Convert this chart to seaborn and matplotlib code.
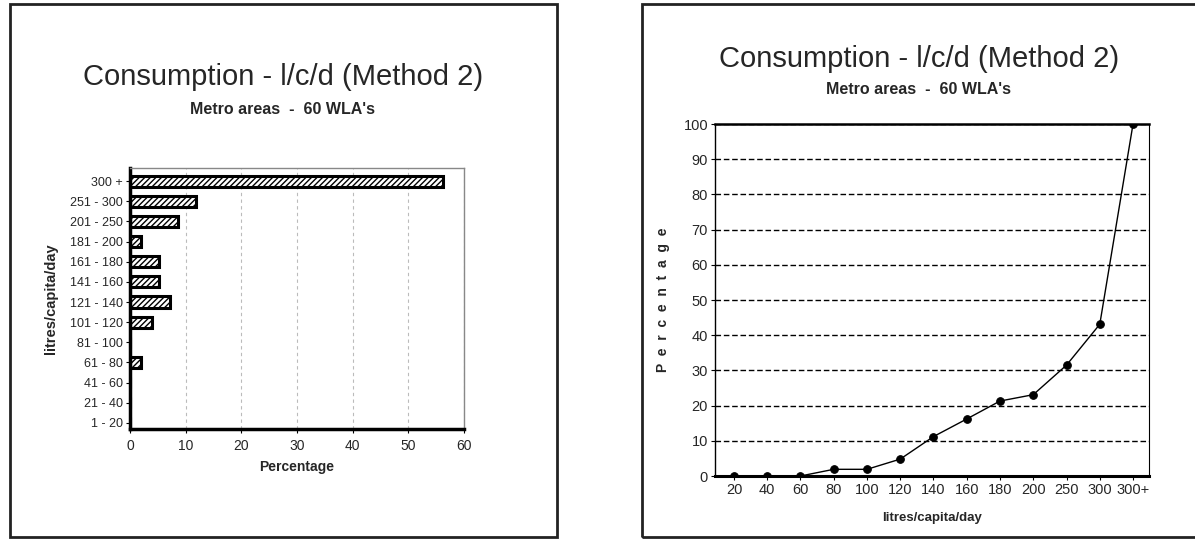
import matplotlib
matplotlib.use('Agg')
import matplotlib.pyplot as plt
import seaborn as sns
from matplotlib.patches import Rectangle

# data
bands = ['300 +', '251 - 300', '201 - 250', '181 - 200', '161 - 180', '141 - 160',
         '121 - 140', '101 - 120', '81 - 100', '61 - 80', '41 - 60', '21 - 40', '1 - 20']
band_pct = [56.3, 11.9, 8.6, 1.9, 5.2, 5.2, 7.2, 3.9, 0, 1.9, 0, 0, 0]

cum_labels = ['20', '40', '60', '80', '100', '120', '140', '160', '180', '200', '250', '300', '300+']
cum_pct = [0, 0, 0, 1.9, 1.9, 4.8, 11.2, 16.2, 21.3, 23.1, 31.5, 43.1, 100]

title = 'Consumption - l/c/d (Method 2)'
subtitle = "Metro areas  -  60 WLA's"

sns.set_theme(style='white')
plt.rcParams['font.family'] = ['Liberation Sans', 'DejaVu Sans']

W, H = 1195, 542
fig = plt.figure(figsize=(W / 100, H / 100), dpi=100)

def px(x0, y0, x1, y1):
    return [x0 / W, 1 - y1 / H, (x1 - x0) / W, (y1 - y0) / H]

# panel frames
for x0, x1 in [(10, 557), (642, 1200)]:
    fig.patches.append(Rectangle((x0 / W, 5 / H), (x1 - x0) / W, 533 / H,
                                 transform=fig.transFigure, fill=False,
                                 edgecolor='#222222', linewidth=2))

# ---- left: horizontal bars
ax1 = fig.add_axes(px(130, 168, 464, 429))
sns.barplot(x=band_pct, y=bands, orient='h', ax=ax1, color='white',
            edgecolor='black', linewidth=2.2, width=0.55, hatch='//////')
ax1.set_xlim(0, 60)
ax1.set_ylim(12.3, -0.65)
ax1.set_xticks(range(0, 61, 10))
ax1.xaxis.grid(True, color='#bbbbbb', linestyle=(0, (3, 3)), linewidth=0.8)
ax1.set_axisbelow(True)
for s in ['left', 'bottom']:
    ax1.spines[s].set_linewidth(2.5)
    ax1.spines[s].set_color('black')
for s in ['top', 'right']:
    ax1.spines[s].set_linewidth(1)
    ax1.spines[s].set_color('#888888')
ax1.tick_params(axis='y', labelsize=9, length=3, width=0.8, pad=2,
                left=True, color='black')
ax1.tick_params(axis='x', labelsize=10, length=3, width=0.8, pad=4,
                bottom=True, color='black')
ax1.set_xlabel('Percentage', fontsize=10, fontweight='bold', labelpad=5)
ax1.set_ylabel('litres/capita/day', fontsize=10.5, fontweight='bold', labelpad=9)

fig.text(283 / W, 1 - 85 / H, title, ha='center', va='baseline', fontsize=21)
fig.text(283 / W, 1 - 109 / H, subtitle, ha='center', va='center', fontsize=11.5,
         fontweight='bold')

# ---- right: cumulative line
ax2 = fig.add_axes(px(715, 124, 1149, 476))
sns.pointplot(x=cum_labels, y=cum_pct, ax=ax2, color='black', markers='o',
              markersize=5.5, linewidth=1)
ax2.set_xlim(-0.57, 12.48)
ax2.set_ylim(0, 100)
ax2.set_yticks(range(0, 101, 10))
ax2.yaxis.grid(True, color='black', linestyle=(0, (4, 2)), linewidth=1)
ax2.set_axisbelow(True)
ax2.spines['bottom'].set_linewidth(2.2)
ax2.spines['top'].set_linewidth(1.8)
ax2.spines['left'].set_linewidth(1)
ax2.spines['right'].set_linewidth(0.8)
for s in ax2.spines.values():
    s.set_color('black')
ax2.tick_params(axis='both', labelsize=10.5, length=3, width=0.8, pad=2,
                bottom=True, left=True, color='black')
ax2.set_xlabel('litres/capita/day', fontsize=9.5, fontweight='bold', labelpad=11)
ax2.set_ylabel('P  e  r  c  e  n  t  a  g  e', fontsize=10, fontweight='bold',
               labelpad=10)

fig.text(919 / W, 1 - 67 / H, title, ha='center', va='baseline', fontsize=21)
fig.text(919 / W, 1 - 89 / H, subtitle, ha='center', va='center', fontsize=11.5,
         fontweight='bold')

plt.savefig('out.png', dpi=100)
